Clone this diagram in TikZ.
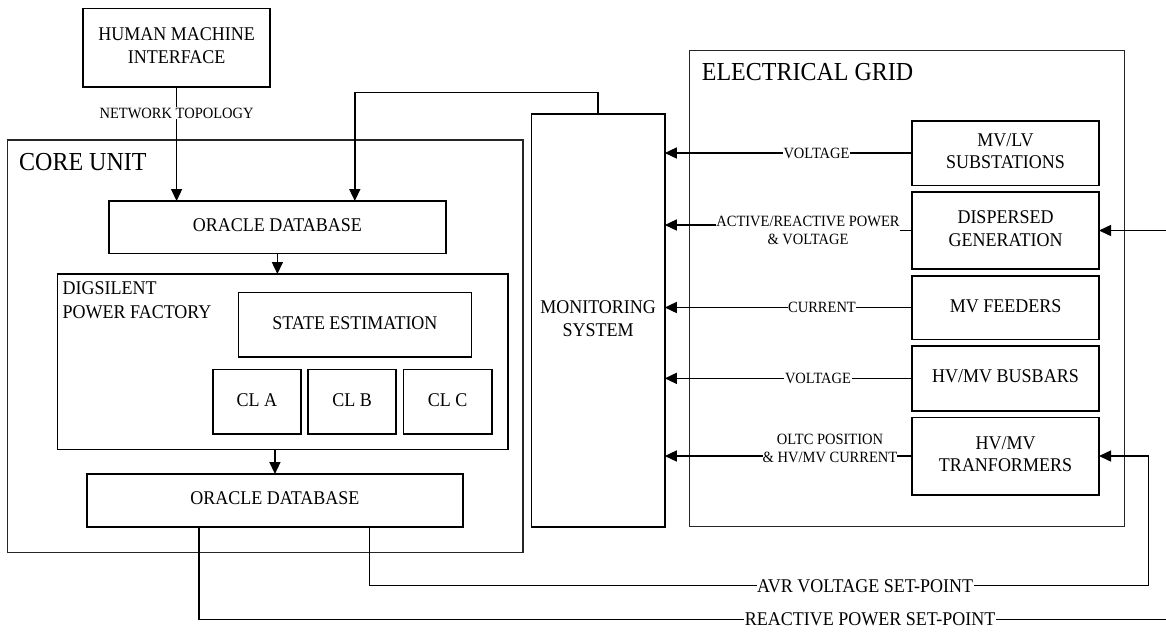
\documentclass[tikz,border=0pt]{standalone}
\usepackage{fontspec}
\usepackage{graphicx}
\setmainfont{Liberation Serif}
\usetikzlibrary{arrows.meta}
\newcommand\stc[1]{\raisebox{-1.6pt}{\scalebox{1}[1.08]{\begin{tabular}{@{}c@{}}#1\end{tabular}}}}
\newcommand\stl[1]{\scalebox{1}[1.08]{\begin{tabular}{@{}l@{}}#1\end{tabular}}}
\begin{document}
\begin{tikzpicture}[x=1pt,y=-1pt,
  box/.style={draw, line width=1.6pt, inner sep=0pt, outer sep=0pt, align=center,
    font=\fontsize{18}{21}\selectfont},
  frame/.style={draw, line width=1.2pt, black!85, inner sep=0pt, outer sep=0pt},
  title/.style={inner sep=0pt, font=\fontsize{24}{28}\selectfont},
  lbl/.style={fill=white, inner sep=0.6pt, align=center, font=\fontsize{14.5}{17.3}\selectfont},
  biglbl/.style={fill=white, inner sep=0.6pt, font=\fontsize{18}{21}\selectfont},
  conn/.style={line width=1.5pt},
  arr/.style={conn, -{Triangle[length=12pt,width=11pt]}}]
\useasboundingbox (0,0) rectangle (1166,633);

% outer frames
\node[frame, minimum width=515.3pt, minimum height=412.3pt] (core) at (265.35,346.15) {};
\node[frame, minimum width=435pt, minimum height=476pt] (eg) at (907,288.7) {};
\node[title, anchor=base west] (coret) at (19,170) {\scalebox{1}[1.08]{CORE UNIT}};
\node[title, anchor=base west] (egt) at (701.7,80.7) {\scalebox{1}[1.08]{ELECTRICAL GRID}};

% boxes
\node[box, minimum width=187pt, minimum height=78.4pt] (hmi) at (176.6,47.5) {\stc{HUMAN MACHINE\\INTERFACE}};
\node[box, minimum width=336.8pt, minimum height=52.3pt] (odb1) at (277.4,227.15) {\stc{ORACLE DATABASE}};
\node[box, minimum width=450.4pt, minimum height=175.3pt] (dig) at (282.6,361.65) {};
\node[inner sep=0pt, anchor=west, font=\fontsize{18}{22}\selectfont] (digt) at (62.4,302) {\stl{DIGSILENT\\POWER FACTORY}};
\node[box, minimum width=233.1pt, minimum height=64.4pt] (se) at (354.95,324.5) {\stc{STATE ESTIMATION}};
\node[box, minimum width=88pt, minimum height=64.7pt] (cla) at (256.8,401.65) {\stc{CL A}};
\node[box, minimum width=88pt, minimum height=64.7pt] (clb) at (352,401.65) {\stc{CL B}};
\node[box, minimum width=88.4pt, minimum height=64.7pt] (clc) at (447.6,401.65) {\stc{CL C}};
\node[box, minimum width=376.1pt, minimum height=52.7pt] (odb2) at (274.95,500.35) {\stc{ORACLE DATABASE}};
\node[box, minimum width=133.4pt, minimum height=413pt] (mon) at (598.1,320.2) {\stc{MONITORING\\SYSTEM}};

\node[box, minimum width=187pt, minimum height=64.6pt] (mvlv) at (1005.5,153) {\stc{MV/LV\\SUBSTATIONS}};
\node[box, minimum width=187pt, minimum height=77pt] (dg) at (1005.5,230.5) {\stc{DISPERSED\\GENERATION}};
\node[box, minimum width=187pt, minimum height=63.6pt] (mvf) at (1005.5,307.5) {\stc{MV FEEDERS}};
\node[box, minimum width=187pt, minimum height=64.7pt] (bus) at (1005.5,378.35) {\stc{HV/MV BUSBARS}};
\node[box, minimum width=187pt, minimum height=77.4pt] (trf) at (1005.5,456) {\stc{HV/MV\\TRANFORMERS}};

% left-side connectors
\draw[arr] (hmi.south) -- (hmi.south |- odb1.north);
\node[lbl] (ntl) at (176.6,113) {\scalebox{1}[1.08]{NETWORK TOPOLOGY}};
\coordinate (fb) at (354.8,92.3);
\draw[arr] (mon.north) |- (fb) -- (fb |- odb1.north);
\draw[arr] (odb1.south) -- (odb1.south |- dig.north);
\draw[arr] (odb2.north |- dig.south) -- (odb2.north);

% grid to monitoring
\draw[arr] (mvlv.west) -- (mvlv.west -| mon.east);
\node[lbl] (l1) at (816.5,153) {\scalebox{1}[1.08]{VOLTAGE}};

\node[lbl, inner sep=0pt] (l2) at (808,231.6) {\stc{ACTIVE/REACTIVE POWER\\\& VOLTAGE}};
\coordinate (dgin) at (716.6,225);
\draw[conn] (dg.west) -- (dg.west -| l2.east);
\draw[arr] (l2.west |- dgin) -- (mon.east |- dgin);

\draw[arr] (mvf.west) -- (mvf.west -| mon.east);
\node[lbl] (l3) at (822,307.5) {\scalebox{1}[1.08]{CURRENT}};

\draw[arr] (bus.west) -- (bus.west -| mon.east);
\node[lbl] (l4) at (818,378.35) {\scalebox{1}[1.08]{VOLTAGE}};

\draw[arr] (trf.west) -- (trf.west -| mon.east);
\node[lbl, inner sep=0pt] (l5) at (830,449.7) {\stc{OLTC POSITION\\\& HV/MV CURRENT}};

% external inputs
\coordinate (rin) at (1166,230.5);
\draw[arr] (rin) -- (dg.east);

\coordinate (avr1) at (369.7,585.7);
\coordinate (avr2) at (1148.7,585.7);
\draw[arr] (odb2.south -| avr1) -- (avr1) -- node[biglbl, pos=0.636] (avrl) {\scalebox{1}[1.08]{AVR VOLTAGE SET-POINT}} (avr2) |- (trf.east);

\coordinate (rp1) at (199,619.3);
\coordinate (rp2) at (1166,619.3);
\draw[conn] (odb2.south -| rp1) -- (rp1) -- node[biglbl, pos=0.694] (rpl) {\scalebox{1}[1.08]{REACTIVE POWER SET-POINT}} (rp2);
\end{tikzpicture}
\end{document}
